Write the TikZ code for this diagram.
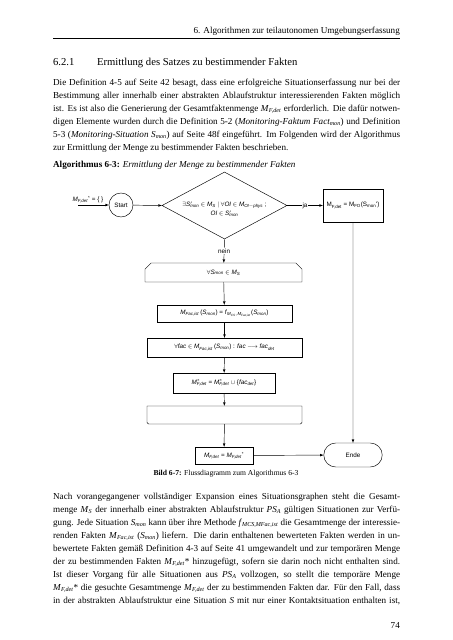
\documentclass[tikz,border=0pt]{standalone}
\usepackage{amsmath}
\usepackage{fontspec}
\setmainfont{Liberation Serif}
\newfontfamily\diafont{Liberation Sans}
\usetikzlibrary{positioning,shapes.geometric,shapes.misc}

\def\pxu{1.3148pt}
\newcommand{\msub}[3][]{\textit{#2}\rlap{\textsuperscript{#1}}\textsubscript{\textit{#3}}}
\newcommand{\jline}[1]{\makebox[456.2pt][s]{#1}}

\begin{document}
\begin{tikzpicture}[x=\pxu, y=-1.3148pt,
    txt/.style={anchor=base west, inner sep=0pt, font=\fontsize{12}{14}\selectfont},
    dia/.style={font=\diafont\fontsize{8.3}{10}\selectfont},
    box/.style={dia, draw, rectangle, inner sep=1pt, line width=0.6pt},
    flow/.style={-latex, line width=0.6pt}]
    \useasboundingbox[fill=white] (0,0) rectangle (453,640);

    % Page head
    \node[anchor=base east, inner sep=0pt, font=\fontsize{12}{14}\selectfont] (head) at (400,34) {6. Algorithmen zur teilautonomen Umgebungserfassung};
    \draw[line width=0.8pt] (53,38) -- (400,38);
    \node[txt, font=\fontsize{14}{16}\selectfont] (secno) at (53,65) {6.2.1};
    \node[txt, font=\fontsize{14}{16}\selectfont] (sec) at (97,65) {Ermittlung des Satzes zu bestimmender Fakten};

    % First paragraph
    \node[txt] (p1) at (53,85) {\jline{Die Definition 4-5 auf Seite 42 besagt, dass eine erfolgreiche Situationserfassung nur bei der}};
    \node[txt] (p2) at (53,98) {\jline{Bestimmung aller innerhalb einer abstrakten Ablaufstruktur interessierenden Fakten möglich}};
    \node[txt] (p3) at (53,111) {\jline{ist. Es ist also die Generierung der Gesamtfaktenmenge \msub{M}{F,det} erforderlich. Die dafür notwen-}};
    \node[txt] (p4) at (53,124) {\jline{digen Elemente wurden durch die Definition 5-2 (\textit{Monitoring-Faktum Fact\textsubscript{mon}}) und Definition}};
    \node[txt] (p5) at (53,137) {\jline{5-3 (\textit{Monitoring-Situation S\textsubscript{mon}}) auf Seite 48f eingeführt. Im Folgenden wird der Algorithmus}};
    \node[txt] (p6) at (53,150) {zur Ermittlung der Menge zu bestimmender Fakten beschrieben.};
    \node[txt] (alg) at (53,167) {\textbf{Algorithmus 6-3:} \textit{Ermittlung der Menge zu bestimmender Fakten}};

    % Nodes
    \coordinate (in) at (78,205);
    \node[dia, anchor=south, inner sep=1pt] (init) at (88,204) {\msub{M}{F,det}\textsuperscript{*} = \{ \}};
    \node[dia, circle, draw, line width=0.6pt, minimum size=24*\pxu, inner sep=0pt] (start) at (121,205) {Start};
    \node[diamond, draw, line width=0.6pt, minimum width=125*\pxu, minimum height=67*\pxu, inner sep=0pt] (cond) at (224.5,205.5) {};
    \node[dia, align=center, inner sep=0pt] (condtext) at (224.5,209) {$\exists$\msub[$\prime$]{S}{mon} $\in$ \msub{M}{S} $|$ $\forall$\textit{OI} $\in$ \msub{M}{OI$-$phys} ;\\[2pt] \textit{OI} $\in$ \msub[$\prime$]{S}{mon}};
    \node[box, minimum width=60*\pxu, minimum height=33*\pxu] (fo) at (353,205.5) {M\textsubscript{F,det} = M\textsubscript{FO}(S\textsubscript{mon}')};
    \node[box, chamfered rectangle, chamfered rectangle corners={north west,north east}, chamfered rectangle xsep=4pt, chamfered rectangle ysep=4pt, minimum width=157*\pxu, minimum height=19*\pxu] (loopA) at (223.5,272.5) {$\forall$\msub{S}{mon} $\in$ \msub{M}{S}};
    \node[box, minimum width=135*\pxu, minimum height=17*\pxu] (fist) at (224.5,313.5) {\msub{M}{Fac,ist}\,(\msub{S}{mon}) = \textit{f}\textsubscript{\msub{M}{CS},\,\msub{M}{Fac,ist}}(\msub{S}{mon})};
    \node[box, minimum width=155*\pxu, minimum height=19*\pxu] (fdet) at (224.5,347.5) {$\forall$\textit{fac} $\in$ \msub{M}{Fac,ist}\,(\msub{S}{mon}) : \textit{fac} $\longrightarrow$ \msub{fac}{det}};
    \node[box, minimum width=102*\pxu, minimum height=20*\pxu] (union) at (224,383) {$\textit{M}^{*}_{\textit{F,det}}$ = $\textit{M}^{*}_{\textit{F,det}}$ $\cup$ \{\msub{fac}{det}\}};
    \node[box, chamfered rectangle, chamfered rectangle corners={south west,south east}, chamfered rectangle xsep=4pt, chamfered rectangle ysep=4pt, minimum width=155*\pxu, minimum height=18*\pxu] (loopB) at (224.5,415) {};
    \node[box, minimum width=58*\pxu, minimum height=17*\pxu] (res) at (224,455.5) {\msub{M}{F,det} = \msub{M}{F,det}\textsuperscript{*}};
    \node[box, rounded rectangle, minimum width=60*\pxu, minimum height=24*\pxu] (ende) at (353,455) {Ende};

    % Edges
    \draw[flow] (in) -- (start);
    \draw[flow] (start) -- (cond.west);
    \draw[flow] (cond.east) -- node[dia, fill=white, inner sep=1pt] {ja} (fo);
    \draw[flow] (cond.south) -- node[dia, fill=white, inner sep=1pt] {nein} (loopA);
    \draw[flow] (loopA) -- (fist);
    \draw[flow] (fist) -- (fdet);
    \draw[flow] (fdet) -- (union);
    \draw[flow] (union) -- (loopB);
    \draw[flow] (loopB) -- (res);
    \draw[flow] (res) -- (ende);
    \draw[flow] (fo) -- (ende);

    \node[font=\fontsize{10}{12}\selectfont] (cap) at (226,474) {\textbf{Bild 6-7:} Flussdiagramm zum Algorithmus 6-3};

    % Second paragraph
    \node[txt] (q1) at (53,499) {\jline{Nach vorangegangener vollständiger Expansion eines Situationsgraphen steht die Gesamt-}};
    \node[txt] (q2) at (53,512) {\jline{menge \msub{M}{S} der innerhalb einer abstrakten Ablaufstruktur \msub{PS}{A} gültigen Situationen zur Verfü-}};
    \node[txt] (q3) at (53,525) {\jline{gung. Jede Situation \msub{S}{mon} kann über ihre Methode \msub{f}{MCS,MFac,ist} die Gesamtmenge der interessie-}};
    \node[txt] (q4) at (53,538) {\jline{renden Fakten \msub{M}{Fac,ist} (\msub{S}{mon}) liefern. Die darin enthaltenen bewerteten Fakten werden in un-}};
    \node[txt] (q5) at (53,551) {\jline{bewertete Fakten gemäß Definition 4-3 auf Seite 41 umgewandelt und zur temporären Menge}};
    \node[txt] (q6) at (53,564) {\jline{der zu bestimmenden Fakten \msub{M}{F,det}* hinzugefügt, sofern sie darin noch nicht enthalten sind.}};
    \node[txt] (q7) at (53,577) {\jline{Ist dieser Vorgang für alle Situationen aus \msub{PS}{A} vollzogen, so stellt die temporäre Menge}};
    \node[txt] (q8) at (53,590) {\jline{\msub{M}{F,det}* die gesuchte Gesamtmenge \msub{M}{F,det} der zu bestimmenden Fakten dar. Für den Fall, dass}};
    \node[txt] (q9) at (53,603) {\jline{in der abstrakten Ablaufstruktur eine Situation \textit{S} mit nur einer Kontaktsituation enthalten ist,}};

    \node[anchor=base east, inner sep=0pt, font=\fontsize{12}{14}\selectfont] (page) at (400,628) {74};
\end{tikzpicture}
\end{document}
